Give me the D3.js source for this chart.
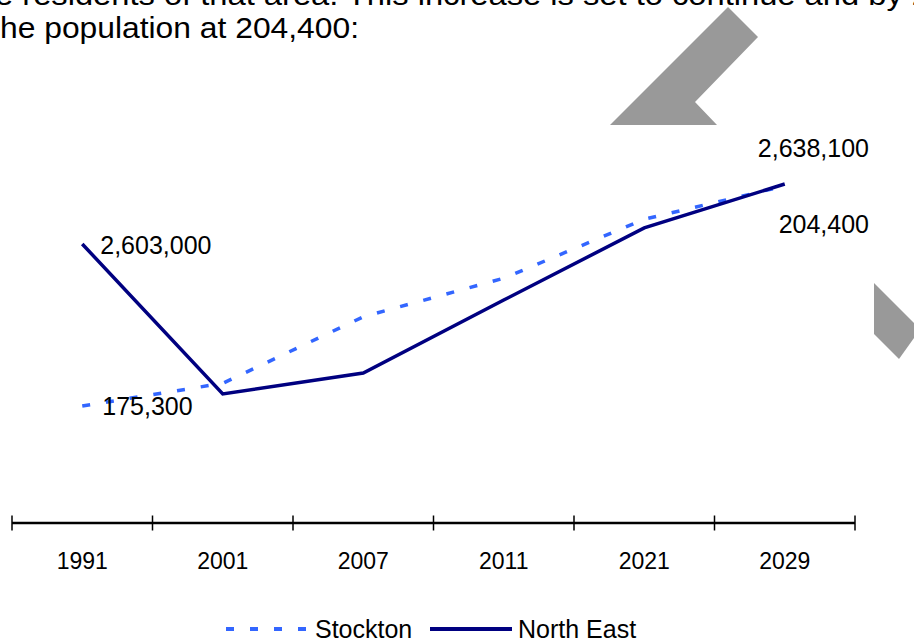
<!DOCTYPE html>
<html>
<head>
<meta charset="utf-8">
<script src="https://cdn.jsdelivr.net/npm/d3@7"></script>
<style>
  html, body { margin: 0; padding: 0; background: #fff; }
  svg { display: block; }
  text { font-family: "Liberation Sans", Arial, Helvetica, sans-serif; fill: #000; }
</style>
</head>
<body>
<svg id="chart" width="914" height="642"></svg>
<script>
// Population by year: Stockton and the North East region
const years = ["1991", "2001", "2007", "2011", "2021", "2029"];
const stockton = [175300, 178300, 187100, 192200, 200000, 204400];
const northEast = [2603000, 2515300, 2527500, 2570200, 2612400, 2638100];
const seriesNames = ["Stockton", "North East"];
const introLines = [
  "e residents of that area. This increase is set to continue and by 2",
  "he population at 204,400:"
];

const svg = d3.select("#chart");
const fmt = d3.format(",");

const navy = "#000080";
const blue = "#3366FF";
const dash = "8,16";

// Body text above the chart
svg.append("text").attr("x", -5).attr("y", 5)
  .attr("font-size", 29).attr("textLength", 935).attr("lengthAdjust", "spacingAndGlyphs")
  .text(introLines[0]);
svg.append("text").attr("x", 0).attr("y", 38)
  .attr("font-size", 29).attr("textLength", 359).attr("lengthAdjust", "spacingAndGlyphs")
  .text(introLines[1]);

// Decorative grey arrow shapes
const grey = "#999999";
svg.append("path").attr("fill", grey)
  .attr("d", "M728,7 L758,37 L695,102 L717,125 L610,125 Z");
svg.append("path").attr("fill", grey)
  .attr("d", "M874,283 L914,323 L914,338 L899,359 L874,334 Z");

// Category axis
const x = d3.scaleBand().domain(years).range([12, 855]);
const axisY = 523;

// Each series has its own vertical scale
const yS = d3.scaleLinear().domain([175300, 204400]).range([406, 186]);
const yNE = d3.scaleLinear().domain([2603000, 2638100]).range([244, 184]);

const cx = d => x(d) + x.bandwidth() / 2;

const axisG = svg.append("g").attr("transform", `translate(0,${axisY})`);
axisG.append("line").attr("x1", x.range()[0]).attr("x2", x.range()[1])
  .attr("stroke", "#000").attr("stroke-width", 2.5);
const bounds = years.map(d => x(d)).concat([x.range()[1]]);
axisG.selectAll("line.tick").data(bounds).join("line").attr("class", "tick")
  .attr("x1", d => d).attr("x2", d => d).attr("y1", -7.5).attr("y2", 7.5)
  .attr("stroke", "#000").attr("stroke-width", 1.5);

const labelAxis = d3.axisBottom(x).tickSize(0).tickPadding(0);
const labelsG = svg.append("g").attr("transform", `translate(0,${axisY})`).call(labelAxis);
labelsG.select(".domain").remove();
labelsG.selectAll("text")
  .attr("y", 38).attr("dy", "0.35em")
  .attr("font-size", 23)
  .attr("fill", "#000")
  .style("font-family", "'Liberation Sans', Arial, sans-serif");

// Lines
const lineS = d3.line().x((d, i) => cx(years[i])).y(d => yS(d));
const lineNE = d3.line().x((d, i) => cx(years[i])).y(d => yNE(d));

svg.append("path").datum(stockton).attr("d", lineS)
  .attr("fill", "none").attr("stroke", blue).attr("stroke-width", 3.5)
  .attr("stroke-dasharray", dash);
svg.append("path").datum(northEast).attr("d", lineNE)
  .attr("fill", "none").attr("stroke", navy).attr("stroke-width", 3.5)
  .attr("stroke-linejoin", "miter");

// Value labels at the first and last points
const last = years.length - 1;
svg.append("text").attr("x", cx(years[0]) + 18).attr("y", yNE(northEast[0]) + 10)
  .attr("font-size", 25).text(fmt(northEast[0]));
svg.append("text").attr("x", cx(years[0]) + 20).attr("y", yS(stockton[0]) + 9)
  .attr("font-size", 25).text(fmt(stockton[0]));
svg.append("text").attr("x", 869).attr("y", yNE(northEast[last]) - 27)
  .attr("text-anchor", "end").attr("font-size", 25).text(fmt(northEast[last]));
svg.append("text").attr("x", 869).attr("y", yS(stockton[last]) + 47)
  .attr("text-anchor", "end").attr("font-size", 25).text(fmt(stockton[last]));

// Legend
const legendY = 629;
const legend = [
  { name: seriesNames[0], color: blue, dash: dash, x1: 226, x2: 306, tx: 315 },
  { name: seriesNames[1], color: navy, dash: null, x1: 430, x2: 512, tx: 518 }
];
const lg = svg.append("g");
legend.forEach(l => {
  lg.append("line").attr("x1", l.x1).attr("x2", l.x2).attr("y1", legendY).attr("y2", legendY)
    .attr("stroke", l.color).attr("stroke-width", 4)
    .attr("stroke-dasharray", l.dash);
  lg.append("text").attr("x", l.tx).attr("y", legendY + 9)
    .attr("font-size", 25).text(l.name);
});
</script>
</body>
</html>
